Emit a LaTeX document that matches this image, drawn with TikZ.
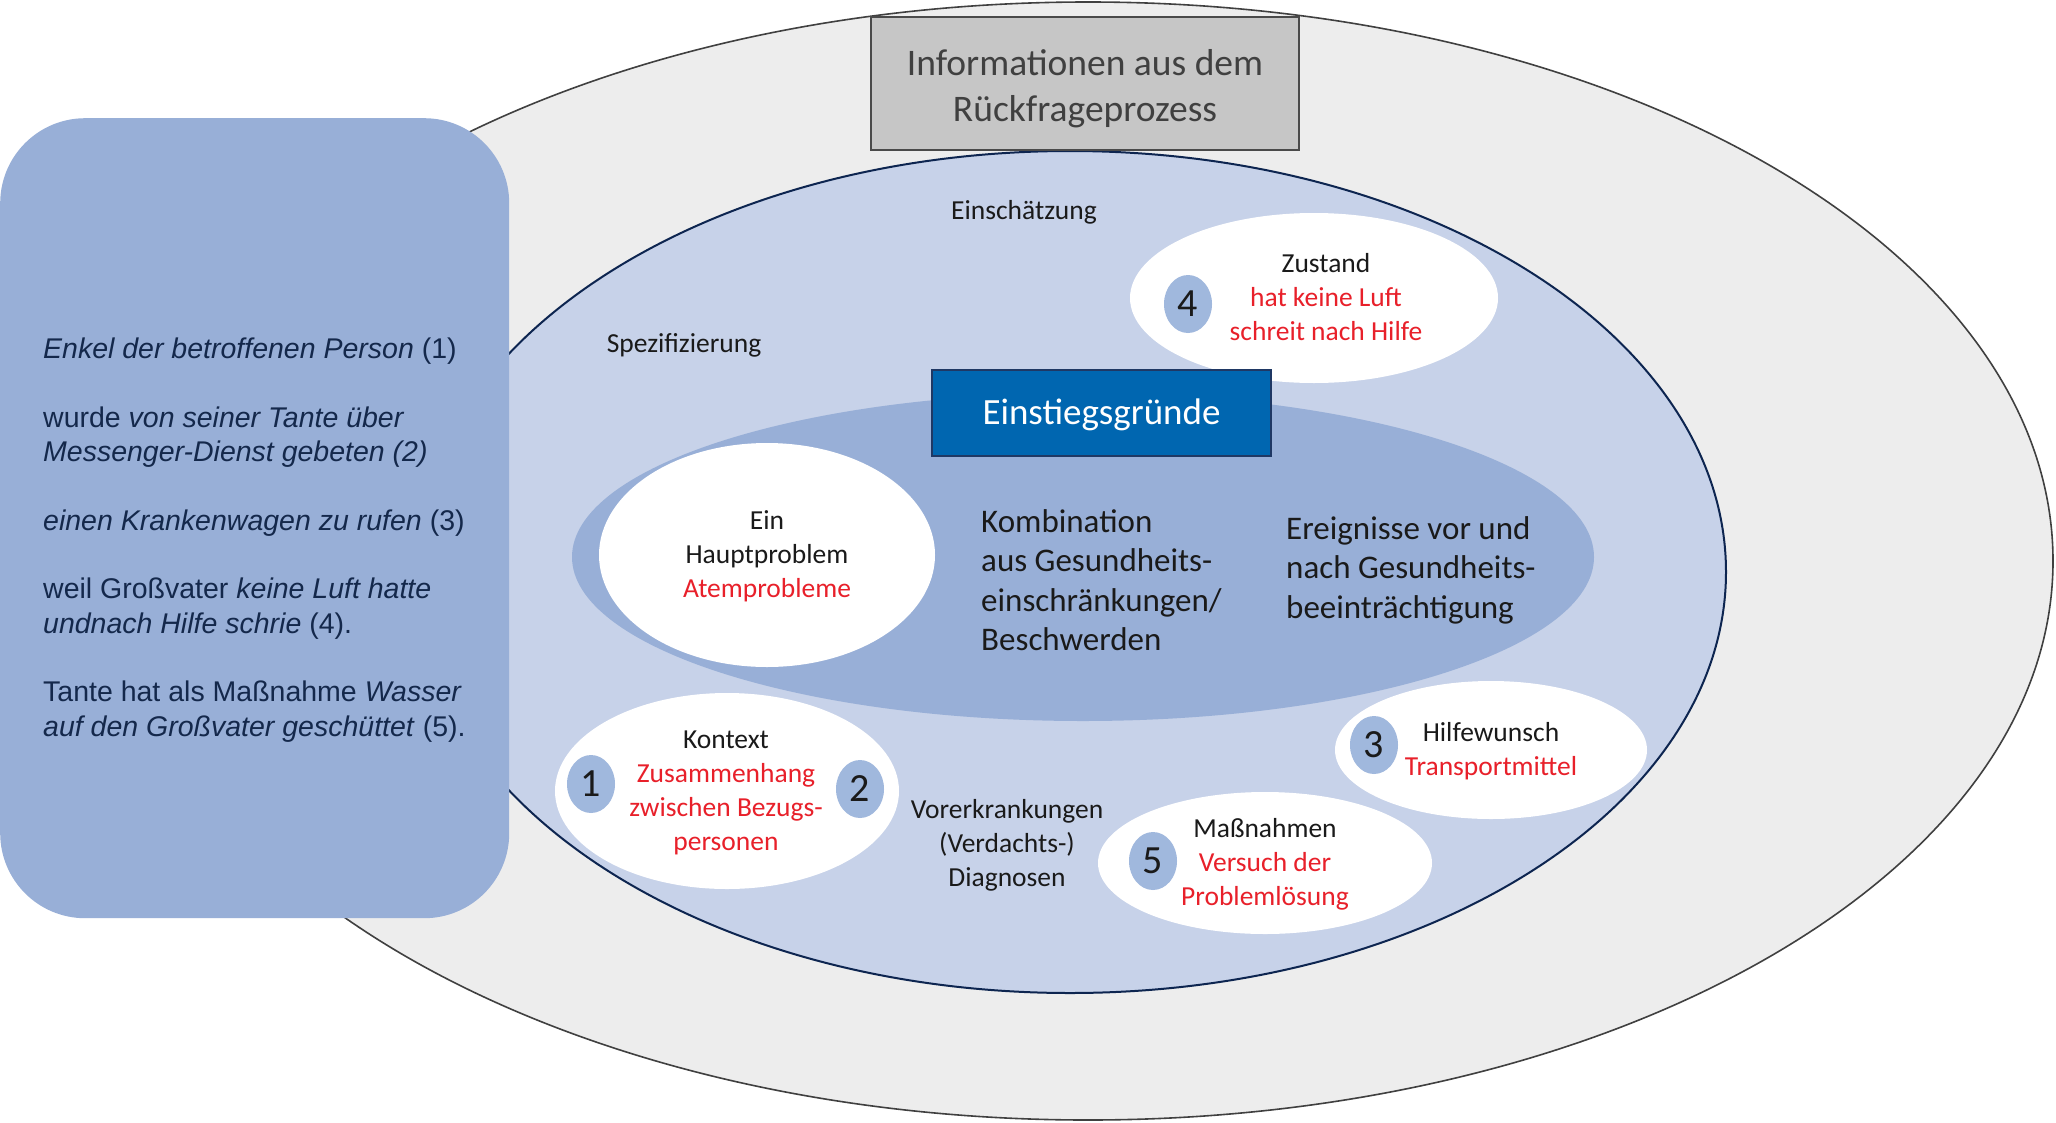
\documentclass[tikz,border=0pt]{standalone}
\usepackage{fontspec}
\setmainfont{Carlito}
\newfontfamily\arialf{Liberation Sans}
\usetikzlibrary{shapes.geometric}
\definecolor{outergray}{HTML}{EDEDED}
\definecolor{outerline}{HTML}{404040}
\definecolor{lightblue}{HTML}{C7D2E9}
\definecolor{navyline}{HTML}{0D2550}
\definecolor{midblue}{HTML}{98AFD7}
\definecolor{circblue}{HTML}{A0B8DD}
\definecolor{boxblue}{HTML}{0066B0}
\definecolor{boxline}{HTML}{1F3864}
\definecolor{titlegray}{HTML}{C6C6C6}
\definecolor{titleline}{HTML}{4A4A4A}
\definecolor{titletext}{HTML}{404040}
\definecolor{redc}{HTML}{E8202A}
\definecolor{txtblack}{HTML}{1A1A1A}
\definecolor{navytext}{HTML}{14284B}
\tikzset{
  whiteell/.style={ellipse, fill=white, draw=none, inner sep=0pt},
  numcirc/.style={ellipse, fill=circblue, draw=none, inner sep=0pt, minimum width=48pt, minimum height=58pt, text=txtblack, font=\fontsize{40}{40}\selectfont},
  smalltxt/.style={font=\fontsize{27.5}{34}\selectfont, text=txtblack, align=center, inner sep=0pt},
  bigtxt/.style={font=\fontsize{33}{39.5}\selectfont, text=txtblack, align=left, inner sep=0pt},
}
\newcommand{\rd}[1]{\textcolor{redc}{#1}}
\begin{document}
\begin{tikzpicture}[x=1pt,y=-1pt]
\useasboundingbox (0,0) rectangle (2056,1122);
\fill[white] (0,0) rectangle (2056,1122);
% outer ellipse
\filldraw[fill=outergray, draw=outerline, line width=1.6pt] (1088,561) ellipse [x radius=965, y radius=559];
% inner ellipse
\filldraw[fill=lightblue, draw=navyline, line width=2pt] (1070,572) ellipse [x radius=656, y radius=421];
% Einstiegsgruende ellipse
\fill[midblue] (1083,557) ellipse [x radius=511, y radius=164];

% white ellipses
\node[whiteell, minimum width=336pt, minimum height=224pt] (haupt) at (767,555) {};
\node[whiteell, minimum width=368pt, minimum height=170pt] (zustand) at (1314,298) {};
\node[whiteell, minimum width=344pt, minimum height=196pt] (kontext) at (727,791) {};
\node[whiteell, minimum width=312pt, minimum height=138pt] (hilfe) at (1491,750) {};
\node[whiteell, minimum width=334pt, minimum height=142pt] (mass) at (1265,863) {};

% number circles
\node[numcirc] (c4) at (1188,304) {4};
\node[numcirc] (c1) at (591,784) {1};
\node[numcirc] (c2) at (860,789) {2};
\node[numcirc] (c3) at (1374,745) {3};
\node[numcirc] (c5) at (1153,861) {5};

% texts in ellipses
\node[smalltxt] (thaupt) at (767,556) {Ein\\Hauptproblem\\\rd{Atemprobleme}};
\node[smalltxt] (tzust) at (1326,297) {Zustand\\\rd{hat keine Luft}\\\rd{schreit nach Hilfe}};
\node[smalltxt] (tkont) at (726,793) {Kontext\\\rd{Zusammenhang}\\\rd{zwischen Bezugs-}\\\rd{personen}};
\node[smalltxt] (thilfe) at (1491,751) {Hilfewunsch\\\rd{Transportmittel}};
\node[smalltxt] (tmass) at (1265,864) {Maßnahmen\\\rd{Versuch der}\\\rd{Problemlösung}};

% free texts
\node[smalltxt] (vorerk) at (1007,845) {Vorerkrankungen\\(Verdachts-)\\Diagnosen};
\node[smalltxt] (einsch) at (1024,212) {Einschätzung};
\node[smalltxt] (spez) at (684,345) {Spezifizierung};
\node[bigtxt, anchor=west] (komb) at (981,580) {Kombination\\aus Gesundheits-\\einschränkungen/\\Beschwerden};
\node[bigtxt, anchor=west] (ereig) at (1286,570) {Ereignisse vor und\\nach Gesundheits-\\beeinträchtigung};

% Einstiegsgruende box
\node[fill=boxblue, draw=boxline, line width=2pt, minimum width=339pt, minimum height=86pt, inner sep=0pt, text=white, font=\fontsize{37}{44}\selectfont, text depth=0pt, text height=22pt] (einstieg) at (1101.5,413) {Einstiegsgründe};

% title box
\node[fill=titlegray, draw=titleline, line width=2.3pt, minimum width=428pt, minimum height=133pt, inner sep=0pt] (title) at (1085,83.5) {};
\node[text=titletext, align=center, inner sep=0pt, font=\fontsize{37.5}{46}\selectfont] (titletxt) at (1085,89) {Informationen aus dem\\Rückfrageprozess};

% left box
\node[fill=midblue, draw=none, rounded corners=85pt, minimum width=509pt, minimum height=800pt, anchor=north west, inner sep=0pt] (lbox) at (0,118) {};
\node[anchor=west, inner sep=0pt, align=left, text=navytext, font=\arialf\fontsize{28.5}{34.3}\selectfont] (ltext) at (43,540) {%
\textit{Enkel der betroffenen Person} (1)\\[34.3pt]
wurde \textit{von seiner Tante über}\\
\textit{Messenger-Dienst gebeten (2)}\\[34.3pt]
\textit{einen Krankenwagen zu rufen} (3)\\[34.3pt]
weil Großvater \textit{keine Luft hatte}\\
\textit{undnach Hilfe schrie} (4).\\[34.3pt]
Tante hat als Maßnahme \textit{Wasser}\\
\textit{auf den Großvater geschüttet} (5).};
\end{tikzpicture}
\end{document}
